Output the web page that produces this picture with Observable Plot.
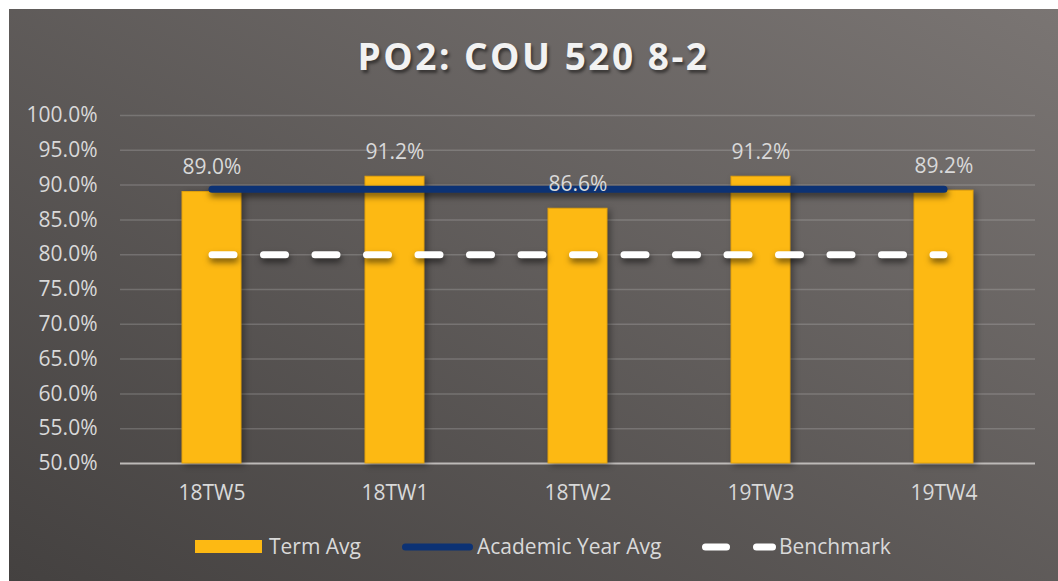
<!DOCTYPE html>
<html>
<head>
<meta charset="utf-8">
<script src="https://cdn.jsdelivr.net/npm/d3@7"></script>
<script src="https://cdn.jsdelivr.net/npm/@observablehq/plot@0.6"></script>
<style>
  html, body { margin: 0; padding: 0; background: #ffffff; }
  #page { position: relative; width: 1058px; height: 581px; overflow: hidden; }
  #panel { position: absolute; left: 9px; top: 9px; width: 1049px; height: 572px;
    background: linear-gradient(to top right, #444140, #7a7573); }
  #title { position: absolute; left: 9px; width: 1049px; top: 34px; text-align: center;
    font-family: "Open Sans", sans-serif; font-weight: 700; font-size: 37px; letter-spacing: 2.5px;
    color: #f2f2f2; text-shadow: 2px 3px 3px rgba(0,0,0,0.45); line-height: 44px; }
  #chart { position: absolute; left: 0; top: 0; }
  #legend { position: absolute; left: 0; top: 0; }
</style>
</head>
<body>
<div id="page">
  <div id="panel"></div>
  <div id="title">PO2: COU 520 8-2</div>
  <div id="chart"></div>
  <svg id="legend" width="1058" height="581"></svg>
</div>
<script>
const terms = ["18TW5", "18TW1", "18TW2", "19TW3", "19TW4"];
const termAvg = [89.0, 91.2, 86.6, 91.2, 89.2];
const academicYearAvg = [89.4, 89.4, 89.4, 89.4, 89.4];
const benchmark = [80, 80, 80, 80, 80];
const yTicks = [50, 55, 60, 65, 70, 75, 80, 85, 90, 95, 100];
const legendLabels = ["Term Avg", "Academic Year Avg", "Benchmark"];

const data = terms.map((t, i) => ({term: t, avg: termAvg[i], ay: academicYearAvg[i], bm: benchmark[i]}));
const fontFamily = '"Open Sans", sans-serif';
const textColor = "#d9d9d9";

const chart = Plot.plot({
  width: 1058,
  height: 581,
  marginLeft: 120,
  marginRight: 23,
  marginTop: 115,
  marginBottom: 118,
  style: {background: "transparent", fontFamily, fontSize: "21px", color: textColor, overflow: "visible"},
  x: {domain: terms, paddingInner: 0.68, paddingOuter: 0.34, label: null, tickSize: 0, tickPadding: 22},
  y: {domain: [50, 100], ticks: yTicks, label: null, tickSize: 0, tickPadding: 23,
      tickFormat: d => d.toFixed(1) + "%"},
  marks: [
    Plot.gridY(yTicks.filter(d => d > 50), {stroke: "#d9d9d9", strokeOpacity: 0.22, strokeWidth: 1.5}),
    Plot.ruleY([50], {stroke: "#bdbab8", strokeWidth: 2}),
    Plot.barY(data, {x: "term", y1: 50, y2: "avg", fill: "#fdb913", stroke: "#e3a20c", strokeWidth: 1}),
    Plot.line(data, {x: "term", y: "bm", stroke: "#ffffff", strokeWidth: 7, strokeLinecap: "round",
      strokeDasharray: "22,29.5"}),
    Plot.line(data, {x: "term", y: "ay", stroke: "#0c3274", strokeWidth: 7, strokeLinecap: "round"}),
    Plot.text(data, {x: "term", y: "avg", text: d => d.avg.toFixed(1) + "%", dy: -24.5,
      fill: textColor, fontSize: 21})
  ]
});
document.getElementById("chart").appendChild(chart);

const svg = d3.select(chart);
svg.selectAll('g[aria-label="bar"]').style("filter", "drop-shadow(3px 2px 3px rgba(0,0,0,0.35))");
svg.selectAll('g[aria-label="line"]').style("filter", "drop-shadow(1px 4px 3px rgba(0,0,0,0.55))");

// Legend
const lg = d3.select("#legend");
const ly = 547;
lg.append("rect").attr("x", 195).attr("y", 540).attr("width", 67).attr("height", 13).attr("fill", "#fdb913");
lg.append("line").attr("x1", 405.5).attr("x2", 469.5).attr("y1", ly).attr("y2", ly)
  .attr("stroke", "#0c3274").attr("stroke-width", 7).attr("stroke-linecap", "round");
lg.append("line").attr("x1", 705.5).attr("x2", 726.5).attr("y1", ly).attr("y2", ly)
  .attr("stroke", "#ffffff").attr("stroke-width", 7).attr("stroke-linecap", "round");
lg.append("line").attr("x1", 756.5).attr("x2", 772.5).attr("y1", ly).attr("y2", ly)
  .attr("stroke", "#ffffff").attr("stroke-width", 7).attr("stroke-linecap", "round");
const lx = [269, 477, 779];
legendLabels.forEach((t, i) => {
  lg.append("text").attr("x", lx[i]).attr("y", ly).attr("dy", "0.35em")
    .attr("font-family", fontFamily).attr("font-size", 21).attr("fill", textColor).text(t);
});
</script>
</body>
</html>
